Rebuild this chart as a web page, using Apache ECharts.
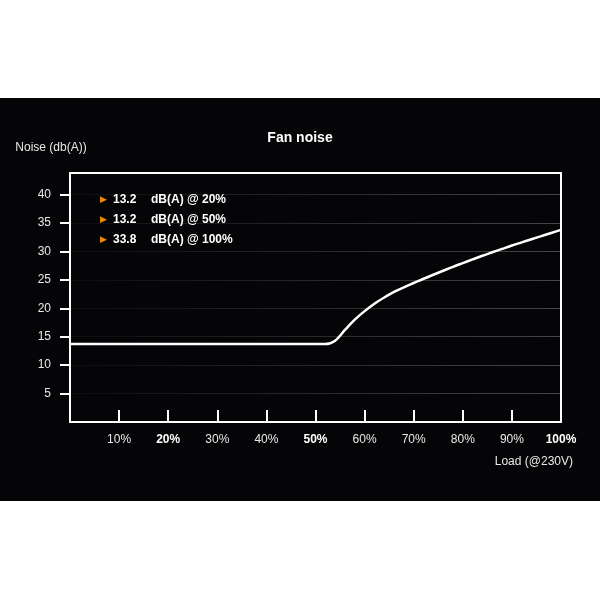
<!DOCTYPE html>
<html>
<head>
<meta charset="utf-8">
<script src="https://cdn.jsdelivr.net/npm/echarts@6/dist/echarts.min.js"></script>
<style>
html,body{margin:0;padding:0;background:#ffffff;}
#c{width:600px;height:600px;}
</style>
</head>
<body>
<div id="c"></div>
<script>
// ---- data ----
var loads = [0, 10, 20, 30, 40, 50, 52, 54, 56, 58, 60, 62, 64, 66, 68, 70, 72, 74, 76, 78, 80, 82, 84, 86, 88, 90, 92, 94, 96, 98, 100];
var noise = [13.7, 13.7, 13.7, 13.7, 13.7, 13.7, 13.7, 14.3, 16.2, 18.0, 19.5, 20.8, 21.9, 22.9, 23.7, 24.45, 25.2, 25.9, 26.6, 27.3, 27.95, 28.6, 29.25, 29.85, 30.45, 31.05, 31.6, 32.15, 32.7, 33.25, 33.8];
var xTicks = [10, 20, 30, 40, 50, 60, 70, 80, 90, 100];
var xBold = [20, 50, 100];
var yTicks = [5, 10, 15, 20, 25, 30, 35, 40];
var annValues = ['13.2', '13.2', '33.8'];
var annLoads = ['20%', '50%', '100%'];

var FONT = '"Liberation Sans", Arial, Helvetica, sans-serif';
var chart = echarts.init(document.getElementById('c'), null, {renderer: 'canvas'});

var graphics = [{
  type: 'rect', left: 0, top: 98, z: -100,
  shape: {width: 600, height: 403},
  style: {fill: '#050507'}
}];
annValues.forEach(function (v, i) {
  graphics.push({
    type: 'text', left: 100, top: 194 + i * 20, z: 100,
    style: {
      text: '{a|\u25B6}{b|' + v + '}{c|dB(A) @ ' + annLoads[i] + '}',
      rich: {
        a: {fontFamily: '"DejaVu Sans", sans-serif', fontSize: 9, fill: '#f08a00', width: 13, height: 14},
        b: {fontFamily: FONT, fontSize: 12, fontWeight: 'bold', fill: '#ffffff', width: 38, height: 14},
        c: {fontFamily: FONT, fontSize: 12, fontWeight: 'bold', fill: '#ffffff', height: 14}
      }
    }
  });
});

var gridGrad = {
  type: 'linear', x: 70, y: 0, x2: 561, y2: 0, global: true,
  colorStops: [{offset: 0, color: 'rgba(255,255,255,0.03)'}, {offset: 0.5, color: 'rgba(255,255,255,0.14)'}, {offset: 1, color: 'rgba(255,255,255,0.26)'}]
};

chart.setOption({
  backgroundColor: 'transparent',
  animation: false,
  textStyle: {fontFamily: FONT},
  title: {
    text: 'Fan noise', left: 'center', top: 126,
    textStyle: {color: '#ffffff', fontSize: 14, fontWeight: 'bold', fontFamily: FONT}
  },
  graphic: graphics,
  grid: {
    left: 70, right: 39, top: 173, bottom: 178,
    show: true, borderColor: '#ffffff', borderWidth: 2, backgroundColor: 'transparent'
  },
  xAxis: {
    type: 'value', min: 0, max: 100, interval: 10,
    name: 'Load (@230V)', nameLocation: 'end', nameGap: 12,
    nameTextStyle: {color: '#e8e8e8', fontSize: 12, align: 'right', verticalAlign: 'top', padding: [34, 0, 0, 0], fontFamily: FONT},
    axisLine: {show: true, lineStyle: {color: '#ffffff', width: 2}},
    axisTick: {show: true, inside: true, length: 12, lineStyle: {color: '#ffffff', width: 2},
      customValues: xTicks.filter(function (v) { return v < 100; })},
    axisLabel: {
      customValues: xTicks, margin: 12, color: '#e8e8e8', fontSize: 12, fontFamily: FONT,
      formatter: function (v) { return xBold.indexOf(v) >= 0 ? '{b|' + v + '%}' : v + '%'; },
      rich: {b: {fontWeight: 'bold', color: '#ffffff', fontSize: 12, fontFamily: FONT}}
    },
    splitLine: {show: false}
  },
  yAxis: {
    type: 'value', min: 0, max: 43.8, interval: 5,
    name: 'Noise (db(A))', nameLocation: 'end', nameGap: 19,
    nameTextStyle: {color: '#e8e8e8', fontSize: 12, align: 'center', padding: [0, 38, 0, 0], fontFamily: FONT},
    axisLine: {show: true, lineStyle: {color: '#ffffff', width: 2}},
    axisTick: {show: true, inside: false, length: 10, lineStyle: {color: '#ffffff', width: 2}, customValues: yTicks},
    axisLabel: {customValues: yTicks, margin: 19, color: '#e8e8e8', fontSize: 12, fontFamily: FONT},
    splitLine: {show: true, lineStyle: {color: gridGrad, width: 1}}
  },
  series: [{
    type: 'line',
    data: loads.map(function (x, i) { return [x, noise[i]]; }),
    smooth: 0.3,
    showSymbol: false, symbol: 'none',
    lineStyle: {color: '#ffffff', width: 2.5},
    z: 5
  }]
});
</script>
</body>
</html>
